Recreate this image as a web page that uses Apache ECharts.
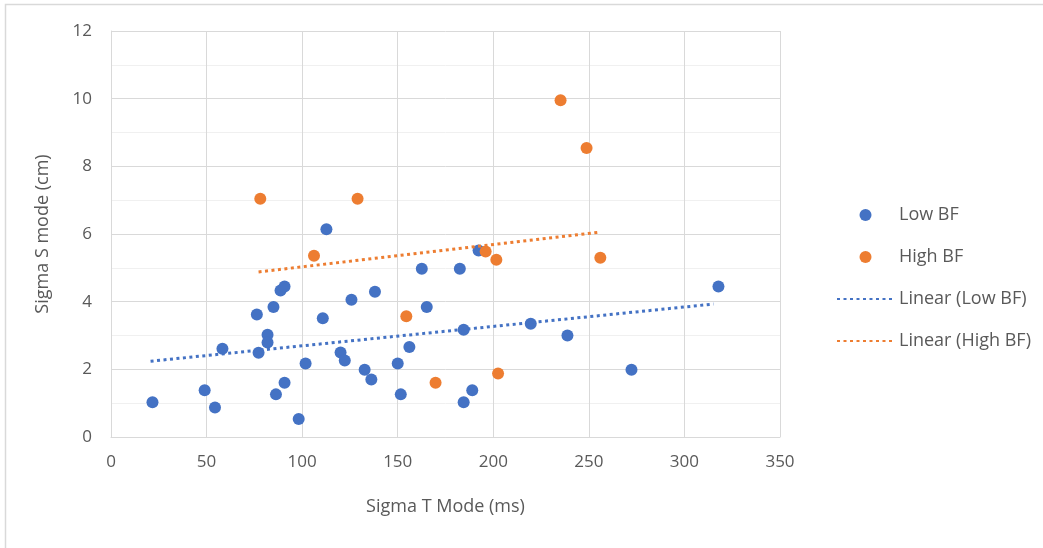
<!DOCTYPE html>
<html>
<head>
<meta charset="utf-8">
<script src="https://cdn.jsdelivr.net/npm/echarts@6/dist/echarts.min.js"></script>
<style>
  html, body { margin: 0; padding: 0; background: #fff; }
  #chart { width: 1043px; height: 548px; }
</style>
</head>
<body>
<div id="chart"></div>
<script>
// Low BF points (Sigma T mode ms, Sigma S mode cm)
var lowBfX = [21.7, 49, 54.4, 58.3, 76.3, 77.2, 81.9, 81.9, 85, 86.3, 88.7, 90.8, 90.8, 98.2, 101.8, 110.8, 112.7, 120.1, 122.3, 125.8,
    132.7, 136.2, 138.1, 150, 151.6, 156.1, 162.6, 165.2, 182.5, 184.5, 184.5, 189, 192.3, 219.6, 238.8, 272.3, 317.8];
var lowBfY = [1.03, 1.38, 0.87, 2.61, 3.62, 2.49, 3.02, 2.79, 3.84, 1.26, 4.33, 4.45, 1.6, 0.53, 2.17, 3.51, 6.14, 2.5, 2.26, 4.06,
    1.99, 1.7, 4.29, 2.17, 1.26, 2.66, 4.97, 3.84, 4.97, 3.17, 1.03, 1.38, 5.51, 3.35, 3.0, 1.99, 4.45];

// High BF points
var highBfX = [78.1, 106.2, 129, 154.5, 169.8, 196, 201.6, 202.5, 235.2, 248.8, 256];
var highBfY = [7.04, 5.36, 7.04, 3.57, 1.6, 5.48, 5.24, 1.88, 9.95, 8.54, 5.3];

// trend line ends
var lowTrendX = [20.7, 315.2];
var lowTrendY = [2.24, 3.93];
var highTrendX = [77.2, 255];
var highTrendY = [4.88, 6.05];

var xTicks = [0, 350, 50];
var yTicks = [0, 12, 2];

function pairs(xs, ys) {
    var out = [];
    for (var i = 0; i < xs.length; i++) {
        out.push([xs[i], ys[i]]);
    }
    return out;
}

var textColor = '#595959';
var gridColor = '#d9d9d9';
var font = 'Open Sans';

var myChart = echarts.init(document.getElementById('chart'));

var option = {
    animation: false,
    backgroundColor: '#fff',
    graphic: [{
        type: 'rect',
        shape: { x: 5.5, y: 4.5, width: 1100, height: 600 },
        style: { fill: 'none', stroke: '#d9d9d9', lineWidth: 1.5 },
        silent: true
    }],
    grid: {
        left: 111,
        right: 263,
        top: 31,
        bottom: 111
    },
    legend: {
        orient: 'vertical',
        left: 836,
        top: 205,
        padding: 0,
        itemWidth: 57,
        itemHeight: 12,
        itemGap: 22,
        textStyle: { color: textColor, fontFamily: font, fontSize: 18, lineHeight: 20 },
        data: [
            'Low BF',
            'High BF',
            // no marker in the middle of the dotted line icons
            { name: 'Linear (Low BF)', itemStyle: { color: 'rgba(0,0,0,0)', borderWidth: 0 } },
            { name: 'Linear (High BF)', itemStyle: { color: 'rgba(0,0,0,0)', borderWidth: 0 } }
        ]
    },
    xAxis: {
        type: 'value',
        min: xTicks[0],
        max: xTicks[1],
        interval: xTicks[2],
        name: 'Sigma T Mode (ms)',
        nameLocation: 'middle',
        nameGap: 61,
        nameTextStyle: { color: textColor, fontFamily: font, fontSize: 18 },
        axisLine: { show: true, lineStyle: { color: gridColor, width: 1 } },
        axisTick: { show: false },
        axisLabel: { color: textColor, fontFamily: font, fontSize: 17, margin: 17 },
        splitLine: { show: true, lineStyle: { color: gridColor, width: 1 } }
    },
    yAxis: {
        type: 'value',
        min: yTicks[0],
        max: yTicks[1],
        interval: yTicks[2],
        name: 'Sigma S mode (cm)',
        nameLocation: 'middle',
        nameGap: 59,
        nameTextStyle: { color: textColor, fontFamily: font, fontSize: 18 },
        axisLine: { show: true, lineStyle: { color: gridColor, width: 1 } },
        axisTick: { show: false },
        axisLabel: { color: textColor, fontFamily: font, fontSize: 17, margin: 19 },
        splitLine: { show: true, lineStyle: { color: gridColor, width: 1 } },
        minorTick: { show: false, splitNumber: 2 },
        minorSplitLine: { show: true, lineStyle: { color: '#f0f0f0', width: 1 } }
    },
    series: [{
        name: 'Low BF',
        type: 'scatter',
        symbol: 'circle',
        symbolSize: 12,
        itemStyle: { color: '#4472C4', opacity: 1 },
        data: pairs(lowBfX, lowBfY)
    }, {
        name: 'High BF',
        type: 'scatter',
        symbol: 'circle',
        symbolSize: 12,
        itemStyle: { color: '#ED7D31', opacity: 1 },
        data: pairs(highBfX, highBfY)
    }, {
        name: 'Linear (Low BF)',
        type: 'line',
        symbol: 'none',
        showSymbol: false,
        z: 3,
        itemStyle: { color: '#4472C4' },
        lineStyle: { color: '#4472C4', width: 3, type: [3, 3.5] },
        data: pairs(lowTrendX, lowTrendY)
    }, {
        name: 'Linear (High BF)',
        type: 'line',
        symbol: 'none',
        showSymbol: false,
        z: 3,
        itemStyle: { color: '#ED7D31' },
        lineStyle: { color: '#ED7D31', width: 3, type: [3, 3.5] },
        data: pairs(highTrendX, highTrendY)
    }]
};

myChart.setOption(option);
</script>
</body>
</html>
